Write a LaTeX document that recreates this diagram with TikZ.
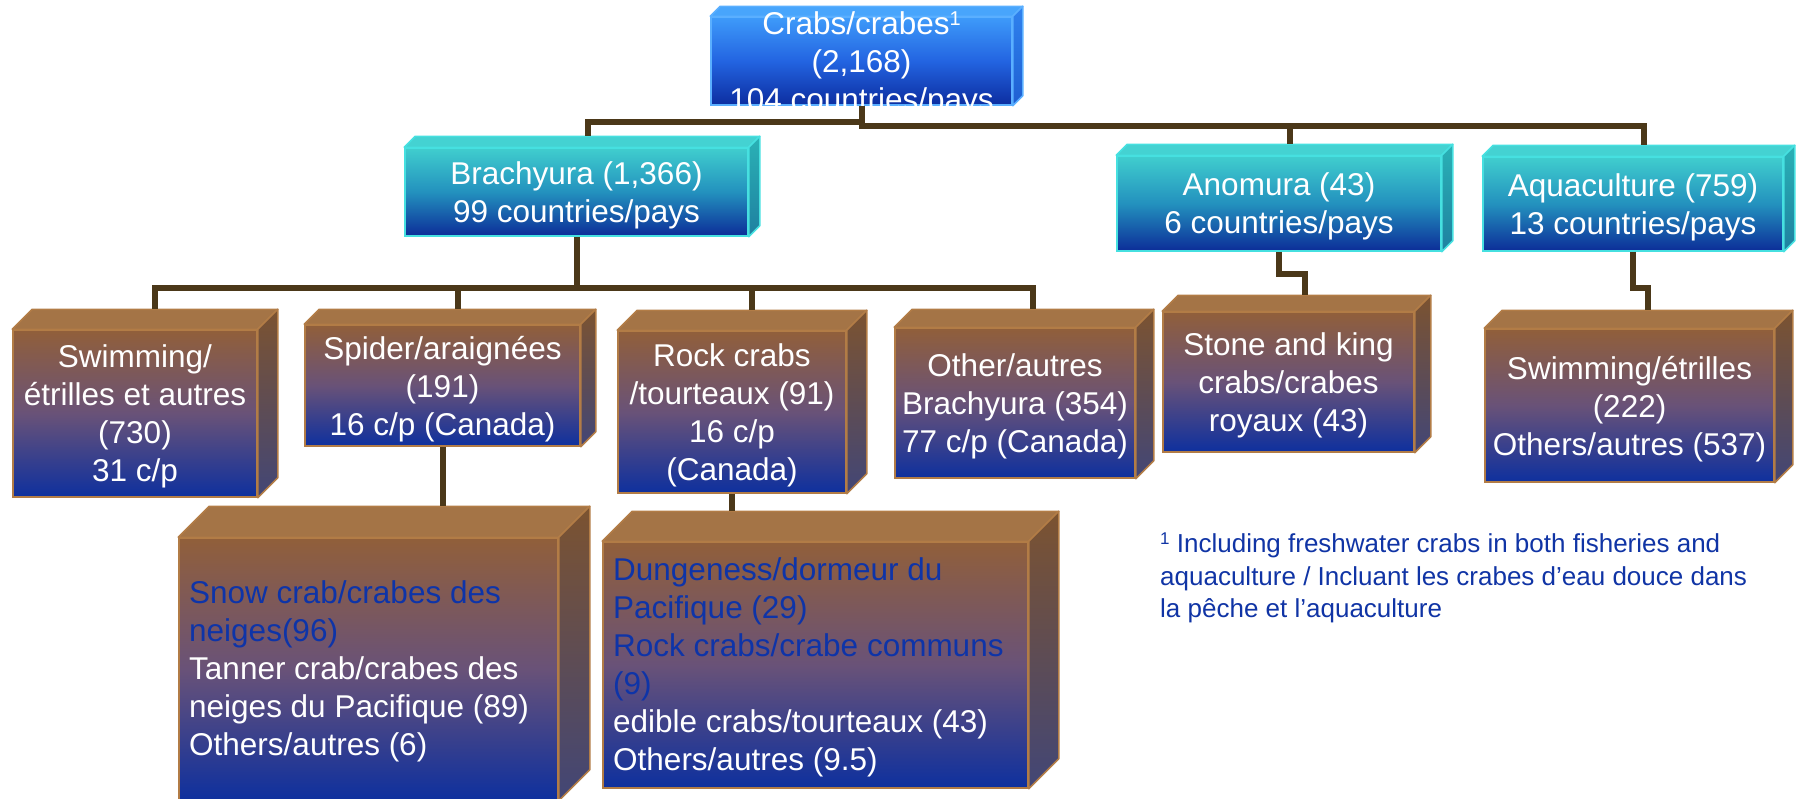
\documentclass[tikz,border=0pt]{standalone}
\usepackage{fontspec}
\setmainfont{Liberation Sans}

\definecolor{linkbrown}{RGB}{75,56,25}
\definecolor{blueTop}{RGB}{62,155,250}
\definecolor{blueMid}{RGB}{35,100,225}
\definecolor{blueBot}{RGB}{12,45,160}
\definecolor{blueLid}{RGB}{72,165,252}
\definecolor{blueSide}{RGB}{48,130,238}
\definecolor{blueSideBot}{RGB}{30,95,210}
\definecolor{blueEdge}{RGB}{90,175,255}
\definecolor{tealTop}{RGB}{64,206,206}
\definecolor{tealMid}{RGB}{35,145,190}
\definecolor{tealBot}{RGB}{12,45,152}
\definecolor{tealLid}{RGB}{68,210,210}
\definecolor{tealSide}{RGB}{42,178,182}
\definecolor{tealSideBot}{RGB}{30,128,160}
\definecolor{tealEdge}{RGB}{70,224,224}
\definecolor{brownTop}{RGB}{145,95,58}
\definecolor{brownMid}{RGB}{105,82,120}
\definecolor{brownBot}{RGB}{14,48,158}
\definecolor{brownLid}{RGB}{164,116,70}
\definecolor{brownSide}{RGB}{124,83,48}
\definecolor{brownSideBot}{RGB}{66,70,118}
\definecolor{brownEdge}{RGB}{178,124,70}
\definecolor{listblue}{RGB}{14,52,168}
\definecolor{noteblue}{RGB}{16,52,165}

% top and side faces of a box: node, depth, lid, side top, side bottom, edge
\newcommand{\cubefaces}[6]{%
  \path[draw=#6, line width=1.5pt, fill=#3, line join=round]
    (#1.north west) -- ++(#2,-#2) -- ([shift={(#2,-#2)}]#1.north east) -- (#1.north east) -- cycle;
  \path[draw=#6, line width=1.5pt, top color=#4, bottom color=#5, line join=round]
    (#1.north east) -- ([shift={(#2,-#2)}]#1.north east) -- ([shift={(#2,-#2)}]#1.south east) -- (#1.south east) -- cycle;
}

\begin{document}
\begin{tikzpicture}[x=1pt,y=-1pt,
  link/.style={draw=linkbrown, line width=6pt, line join=miter},
  cube/.style={inner sep=0pt, line width=1.5pt},
  bluecube/.style={cube, draw=blueEdge, top color=blueTop, bottom color=blueBot, middle color=blueMid},
  tealcube/.style={cube, draw=tealEdge, top color=tealTop, bottom color=tealBot, middle color=tealMid},
  browncube/.style={cube, draw=brownEdge, top color=brownTop, bottom color=brownBot, middle color=brownMid},
  boxlabel/.style={text=white, align=center, inner sep=0pt, yshift=-3.3pt, font=\fontsize{31.5}{38}\selectfont},
  listlabel/.style={text=white, align=left, inner sep=0pt, anchor=north west, font=\fontsize{31.5}{38}\selectfont},
  notelabel/.style={text=noteblue, align=left, inner sep=0pt, anchor=north west, font=\fontsize{26}{32.5}\selectfont}]

  \useasboundingbox (0,0) rectangle (1801,798);

  % top level
  \node[bluecube, minimum width=301pt, minimum height=88pt] (crabs) at (861.5,61) {};
  \cubefaces{crabs}{10}{blueLid}{blueSide}{blueSideBot}{blueEdge}
  \node[boxlabel] (crabsL) at (crabs) {Crabs/crabes\raisebox{9pt}{\fontsize{20}{20}\selectfont 1}\\(2,168)\\104 countries/pays};

  % second level
  \node[tealcube, minimum width=343pt, minimum height=88pt] (brach) at (576.5,192) {};
  \cubefaces{brach}{11}{tealLid}{tealSide}{tealSideBot}{tealEdge}
  \node[boxlabel] (brachL) at (brach) {Brachyura (1,366)\\99 countries/pays};

  \node[tealcube, minimum width=324pt, minimum height=95pt] (anom) at (1279,203.5) {};
  \cubefaces{anom}{11}{tealLid}{tealSide}{tealSideBot}{tealEdge}
  \node[boxlabel] (anomL) at (anom) {Anomura (43)\\6 countries/pays};

  \node[tealcube, minimum width=300pt, minimum height=94pt] (aqua) at (1633,204) {};
  \cubefaces{aqua}{11}{tealLid}{tealSide}{tealSideBot}{tealEdge}
  \node[boxlabel] (aquaL) at (aqua) {Aquaculture (759)\\13 countries/pays};

  % third level
  \node[browncube, minimum width=244pt, minimum height=167pt] (swim) at (135,413.5) {};
  \cubefaces{swim}{20}{brownLid}{brownSide}{brownSideBot}{brownEdge}
  \node[boxlabel] (swimL) at (swim) {Swimming/\\étrilles et autres\\(730)\\31 c/p};

  \node[browncube, minimum width=275pt, minimum height=121pt] (spider) at (442.5,385.5) {};
  \cubefaces{spider}{15}{brownLid}{brownSide}{brownSideBot}{brownEdge}
  \node[boxlabel] (spiderL) at (spider) {Spider/araignées\\(191)\\16 c/p (Canada)};

  \node[browncube, minimum width=228pt, minimum height=162pt] (rock) at (732,412) {};
  \cubefaces{rock}{20}{brownLid}{brownSide}{brownSideBot}{brownEdge}
  \node[boxlabel] (rockL) at (rock) {Rock crabs\\/tourteaux (91)\\16 c/p\\(Canada)};

  \node[browncube, minimum width=240pt, minimum height=150pt] (other) at (1015,403) {};
  \cubefaces{other}{18}{brownLid}{brownSide}{brownSideBot}{brownEdge}
  \node[boxlabel] (otherL) at (other) {Other/autres\\Brachyura (354)\\77 c/p (Canada)};

  \node[browncube, minimum width=251pt, minimum height=140pt] (stone) at (1288.5,382) {};
  \cubefaces{stone}{16}{brownLid}{brownSide}{brownSideBot}{brownEdge}
  \node[boxlabel] (stoneL) at (stone) {Stone and king\\crabs/crabes\\royaux (43)};

  \node[browncube, minimum width=289pt, minimum height=153pt] (aquasub) at (1629.5,405.5) {};
  \cubefaces{aquasub}{18}{brownLid}{brownSide}{brownSideBot}{brownEdge}
  \node[boxlabel] (aquasubL) at (aquasub) {Swimming/étrilles\\(222)\\Others/autres (537)};

  % fourth level
  \node[browncube, minimum width=379pt, minimum height=262pt] (snow) at (368.5,669) {};
  \cubefaces{snow}{31}{brownLid}{brownSide}{brownSideBot}{brownEdge}
  \node[listlabel] (snowL) at (189,580) {\textcolor{listblue}{Snow crab/crabes des}\\\textcolor{listblue}{neiges(96)}\\Tanner crab/crabes des\\neiges du Pacifique (89)\\Others/autres (6)};

  \node[browncube, minimum width=425pt, minimum height=246pt] (dung) at (815.5,665) {};
  \cubefaces{dung}{30}{brownLid}{brownSide}{brownSideBot}{brownEdge}
  \node[listlabel] (dungL) at (613,557) {\textcolor{listblue}{Dungeness/dormeur du}\\\textcolor{listblue}{Pacifique (29)}\\\textcolor{listblue}{Rock crabs/crabe communs}\\\textcolor{listblue}{(9)}\\edible crabs/tourteaux (43)\\Others/autres (9.5)};

  % footnote
  \node[notelabel] (note) at (1160,533) {\raisebox{8pt}{\fontsize{17}{17}\selectfont 1} Including freshwater crabs in both fisheries and\\aquaculture / Incluant les crabes d’eau douce dans\\la pêche et l’aquaculture};

  % connectors
  \coordinate (snowlid) at ([shift={(31,-31)}]snow.north);
  \coordinate (dunglid) at ([shift={(30,-30)}]dung.north);

  \draw[link] (crabs.south) -- ++(0,16) -| ([shift={(11,-11)}]brach.north);
  \draw[link] (crabs.south) -- ++(0,20) coordinate (topbus) -| ([shift={(11,-11)}]aqua.north);
  \draw[link] (topbus) -| ([shift={(11,-11)}]anom.north);

  \draw[link] (brach.south) -- ++(0,51) coordinate (brachbus);
  \foreach \kid/\dep in {swim/20, spider/15, rock/20, other/18}
    \draw[link] (brachbus) -| ([shift={(\dep,-\dep)}]\kid.north);

  \draw[link] (anom.south) -- ++(0,22) -| ([shift={(16,-16)}]stone.north);
  \draw[link] (aqua.south) -- ++(0,36) -| ([shift={(18,-18)}]aquasub.north);

  \draw[link] (spider.south) -- (spider.south |- snowlid);
  \draw[link] (rock.south) -- (rock.south |- dunglid);
\end{tikzpicture}
\end{document}
